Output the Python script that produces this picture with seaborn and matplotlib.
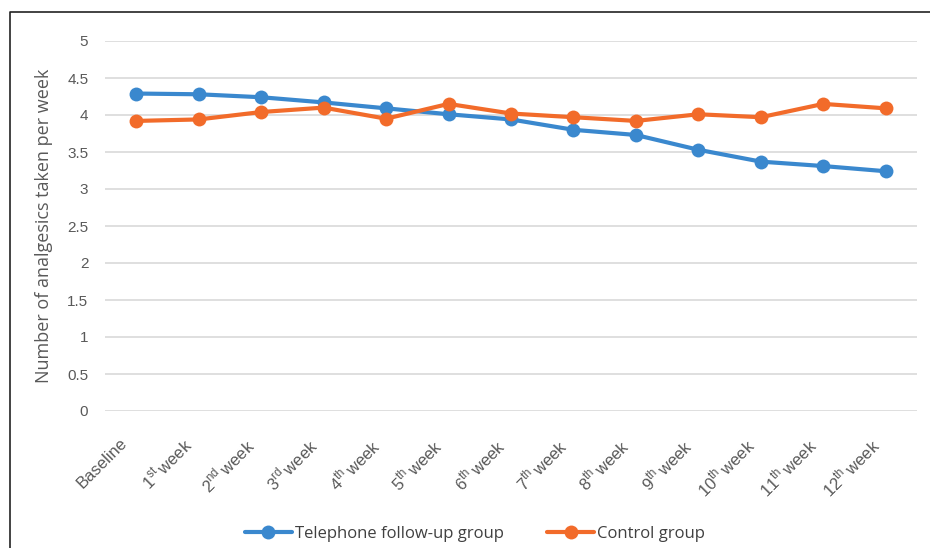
import matplotlib
matplotlib.use("Agg")
import matplotlib.pyplot as plt
import matplotlib.transforms as mtransforms
import seaborn as sns
import pandas as pd
from matplotlib.lines import Line2D

categories = ["Baseline", "1st week", "2nd week", "3rd week", "4th week", "5th week",
              "6th week", "7th week", "8th week", "9th week", "10th week", "11th week", "12th week"]
tick_labels = ["Baseline", "1$^{\\mathregular{st}}\\,$week", "2$^{\\mathregular{nd}}\\,$week",
               "3$^{\\mathregular{rd}}\\,$week", "4$^{\\mathregular{th}}\\,$week", "5$^{\\mathregular{th}}\\,$week",
               "6$^{\\mathregular{th}}\\,$week", "7$^{\\mathregular{th}}\\,$week", "8$^{\\mathregular{th}}\\,$week",
               "9$^{\\mathregular{th}}\\,$week", "10$^{\\mathregular{th}}\\,$week", "11$^{\\mathregular{th}}\\,$week",
               "12$^{\\mathregular{th}}\\,$week"]
telephone = [4.29, 4.28, 4.24, 4.17, 4.09, 4.01, 3.94, 3.80, 3.73, 3.53, 3.37, 3.31, 3.24]
control = [3.92, 3.94, 4.04, 4.10, 3.95, 4.15, 4.02, 3.97, 3.92, 4.01, 3.97, 4.15, 4.09]
series_names = ["Telephone follow-up group", "Control group"]
y_ticks = [0, 0.5, 1, 1.5, 2, 2.5, 3, 3.5, 4, 4.5, 5]

sns.set_theme(style="white")
plt.rcParams['font.family'] = ['Liberation Sans', 'DejaVu Sans']
plt.rcParams['mathtext.fontset'] = 'custom'
plt.rcParams['mathtext.rm'] = 'Liberation Sans'

df = pd.DataFrame({
    "x": list(range(len(categories))) * 2,
    "value": telephone + control,
    "group": [series_names[0]] * len(categories) + [series_names[1]] * len(categories),
})

colors = {series_names[0]: "#3A88CE", series_names[1]: "#F26B2A"}

fig = plt.figure(figsize=(9.3, 5.48), dpi=100)
ax = fig.add_axes([105/930, 1 - 411/548, (917-105)/930, (411-41)/548])

sns.lineplot(data=df, x="x", y="value", hue="group", palette=colors, marker="o",
             markersize=10, linewidth=3, markeredgewidth=0, ax=ax, legend=False)

ax.set_xlim(-0.5, len(categories) - 0.5)
ax.set_ylim(0, 5)
ax.set_yticks(y_ticks)
ax.set_yticklabels([f"{t:g}" for t in y_ticks])
ax.set_xticks(range(len(categories)))
ax.set_xticklabels(tick_labels, rotation=45, ha="right", rotation_mode="anchor")
ax.tick_params(axis="x", colors="#595959", labelsize=12, length=0, pad=10)
ax.tick_params(axis="y", colors="#595959", labelsize=11, length=0, pad=12)
offset = mtransforms.ScaledTranslation(-17/100, -10/100, fig.dpi_scale_trans)
for lbl in ax.get_xticklabels():
    lbl.set_transform(lbl.get_transform() + offset)
ax.yaxis.grid(True, color="#D9D9D9", linewidth=1.2)
ax.xaxis.grid(False)
for s in ax.spines.values():
    s.set_visible(False)
ax.set_xlabel("")
ax.set_ylabel("Number of analgesics taken per week", fontsize=13, color="#595959",
              family=["Open Sans", "DejaVu Sans"], labelpad=10)

handles = [Line2D([0], [0], color=colors[n], linewidth=3, marker="o", markersize=10,
                  markeredgewidth=0) for n in series_names]
fig.legend(handles, series_names, loc="center", bbox_to_anchor=(475/930, 1 - 534/548),
           ncol=2, frameon=False, handlelength=2.8, columnspacing=2.6, handletextpad=0.2,
           prop={"family": ["Open Sans", "DejaVu Sans"], "size": 12}, labelcolor="#404040")

# cropped frame border
fig.add_artist(Line2D([10/930, 10/930, 1.0], [0.0, 1 - 12/548, 1 - 12/548],
                      transform=fig.transFigure, color="#222222", linewidth=1.2))

fig.savefig("out.png", dpi=100)
